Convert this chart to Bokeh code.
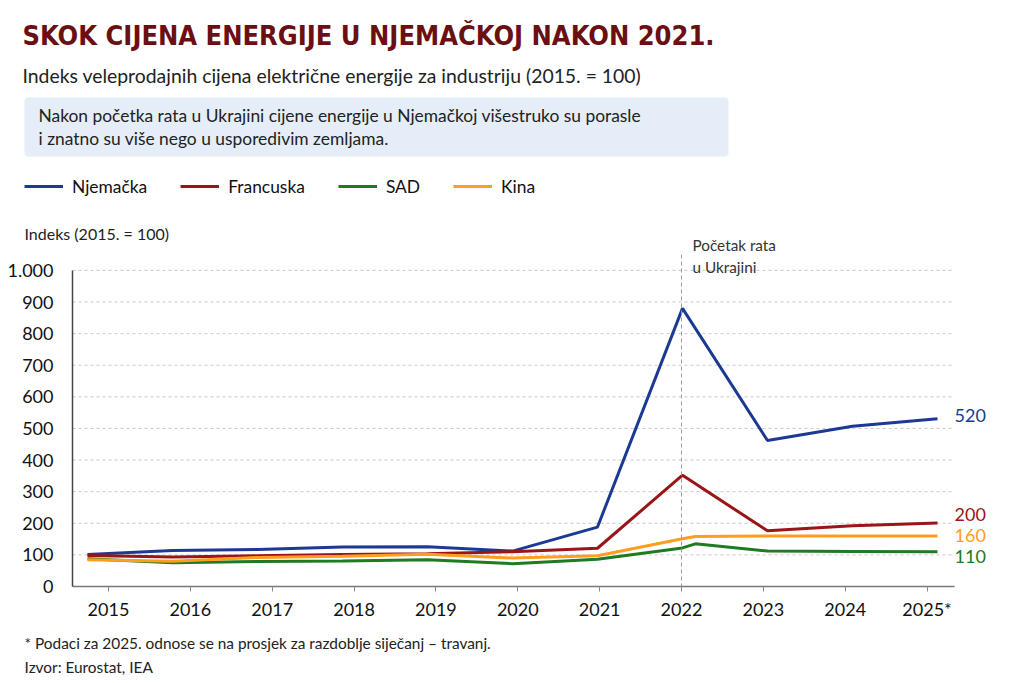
from bokeh.plotting import figure
from bokeh.layouts import column
from bokeh.models import (Range1d, FixedTicker, Label, BoxAnnotation, Legend,
                          LegendItem, Span)
from bokeh.embed import file_html
from bokeh.resources import INLINE

# ---------------- data ----------------
years = [2015, 2016, 2017, 2018, 2019, 2020, 2021, 2022, 2023, 2024, 2025]
year_labels = ["2015", "2016", "2017", "2018", "2019", "2020", "2021", "2022",
               "2023", "2024", "2025*"]
y_ticks = [0, 100, 200, 300, 400, 500, 600, 700, 800, 900, 1000]
y_tick_labels = ["0", "100", "200", "300", "400", "500", "600", "700", "800",
                 "900", "1.000"]

# series positions (index of observation)
de_fr_x = [0, 1, 2, 3, 4, 5, 6, 7, 8, 9, 10]
germany = [101, 114, 117, 125, 126, 112, 188, 880, 462, 507, 531]
france = [98, 93, 97, 101, 104, 110, 121, 352, 176, 192, 201]
cn_us_x = [0, 1, 2, 3, 4, 5, 6, 7, 7.15, 8, 9, 10]
china = [85, 80, 92, 96, 102, 90, 97, 151, 158, 160, 160, 160]
usa = [88, 75, 79, 81, 85, 72, 86, 122, 135, 112, 111, 110]

series_names = ["Njemačka", "Francuska", "SAD", "Kina"]
end_labels = ["520", "200", "160", "110"]
war_year = 2022

C_DE = "#1c3a93"
C_FR = "#9b1418"
C_US = "#1f7a22"
C_CN = "#ff9d1f"
COLORS = [C_DE, C_FR, C_US, C_CN]
FONT = "Lato"
TITLE_FONT = "'Liberation Sans Narrow', 'DejaVu Sans Condensed', sans-serif"

W = 1008
OX, OY = 0, 0          # page position of the canvas origin
H1 = 254 - OY          # header height
H2 = 368               # chart height
H3 = 58                # footer height


def bare(height, y0):
    f = figure(width=W, height=height, output_backend="svg",
               toolbar_location=None, x_axis_location=None,
               y_axis_location=None,
               x_range=Range1d(OX, OX + W), y_range=Range1d(y0 + height, y0),
               min_border=0)
    f.outline_line_color = None
    f.xgrid.grid_line_color = None
    f.ygrid.grid_line_color = None
    f.frame_align = False
    return f


def txt(f, s, X, Y, size, color="#222222", font=FONT, style="normal"):
    f.add_layout(Label(x=X, y=Y, text=s, text_font=font, text_font_size=size,
                       text_color=color, text_font_style=style,
                       text_baseline="middle", text_align="left"))


# ---------------- header ----------------
h = bare(H1, OY)
h.add_layout(BoxAnnotation(left=24, right=728, top=97, bottom=156,
                           fill_color="#e5edf8", fill_alpha=1, line_color=None,
                           border_radius=4, level="underlay"))
txt(h, "SKOK CIJENA ENERGIJE U NJEMAČKOJ NAKON 2021.", 22, 35, "27px",
    color="#6b0f13", font=TITLE_FONT, style="bold")
txt(h, "Indeks veleprodajnih cijena električne energije za industriju (2015. = 100)",
    22, 75, "19.4px")
txt(h, "Nakon početka rata u Ukrajini cijene energije u Njemačkoj višestruko su porasle",
    38, 115, "17.4px")
txt(h, "i znatno su više nego u usporedivim zemljama.", 38, 138, "17.4px")
txt(h, "Indeks (2015. = 100)", 24, 233, "16px")
txt(h, "Početak rata", 692, 244, "15.3px", color="#333333")

items = []
for name, col in zip(series_names, COLORS):
    r = h.line(x=[float("nan")], y=[float("nan")], line_color=col, line_width=3)
    items.append(LegendItem(label=name, renderers=[r]))
h.add_layout(Legend(items=items, orientation="horizontal",
                    location=(24 - OX, H1 + OY - 196.5),
                    glyph_width=39, glyph_height=20, label_standoff=9,
                    spacing=33, padding=0, margin=0, border_line_color=None,
                    background_fill_alpha=0, label_text_font=FONT,
                    label_text_font_size="17.4px", label_text_color="#111111",
                    label_height=20))

# ---------------- chart ----------------
PX = 81.857            # px per year on the tick axis
AX_START = 2015 - (108 - 72) / PX
AX_END = 2015 + (954 - 108) / PX
FR_END = 2015 + (1004 - 108) / PX
PT_START = (72 - 87) / 85
PT_END = (1004 - 87) / 85
FRAME_TOP = OY + H1
Y_TOP = (588 - FRAME_TOP) / 0.318

p = figure(width=W, height=H2, output_backend="svg", toolbar_location=None,
           x_range=Range1d(AX_START, FR_END), y_range=Range1d(0, Y_TOP),
           min_border_left=72 - OX, min_border_right=OX + W - 1004,
           min_border_top=0, min_border_bottom=H2 - (588 - FRAME_TOP))
p.frame_align = False
p.extra_x_ranges = {"pts": Range1d(PT_START, PT_END)}
p.outline_line_color = None
p.xgrid.grid_line_color = None
p.ygrid.grid_line_color = None

p.xaxis.ticker = FixedTicker(ticks=years)
p.xaxis.bounds = (AX_START, AX_END)
p.xaxis.major_label_overrides = {y: l for y, l in zip(years, year_labels)}
p.xaxis.major_label_text_font = FONT
p.xaxis.major_label_text_font_size = "18px"
p.xaxis.major_label_text_color = "#111111"
p.xaxis.axis_line_color = "#777777"
p.xaxis.axis_line_width = 1.5
p.xaxis.major_tick_line_color = "#888888"
p.xaxis.major_tick_out = 5
p.xaxis.major_tick_in = 0
p.xaxis.minor_tick_line_color = None
p.xaxis.major_label_standoff = 6

p.yaxis.ticker = FixedTicker(ticks=y_ticks)
p.yaxis.bounds = (0, 1000)
p.yaxis.major_label_overrides = {t: l for t, l in zip(y_ticks, y_tick_labels)}
p.yaxis.major_label_text_font = FONT
p.yaxis.major_label_text_font_size = "18px"
p.yaxis.major_label_text_color = "#111111"
p.yaxis.axis_line_color = "#444444"
p.yaxis.axis_line_width = 1.5
p.yaxis.major_tick_line_color = None
p.yaxis.minor_tick_line_color = None
p.yaxis.major_label_standoff = 13

# horizontal grid lines at the y ticks, limited to the axis extent
grid_y = y_ticks[1:]
p.segment(x0=[AX_START] * len(grid_y), y0=grid_y, x1=[AX_END] * len(grid_y),
          y1=grid_y, line_color="#c8c8c8", line_dash="3 3", line_width=1)

# war marker
p.add_layout(Span(location=war_year, dimension="height", line_color="#9a9a9a",
                  line_dash="4 3", line_width=1))
p.add_layout(Label(x=war_year, y=Y_TOP, text="u Ukrajini", x_offset=11,
                   y_offset=-12, text_font=FONT, text_font_size="15.3px",
                   text_color="#333333", text_baseline="middle"))

r_de = p.line(de_fr_x, germany, line_color=C_DE, line_width=3, x_range_name="pts")
r_fr = p.line(de_fr_x, france, line_color=C_FR, line_width=3, x_range_name="pts")
r_us = p.line(cn_us_x, usa, line_color=C_US, line_width=3, x_range_name="pts")
r_cn = p.line(cn_us_x, china, line_color=C_CN, line_width=3, x_range_name="pts")

ends = [(germany[-1], end_labels[0], C_DE, 3),
        (france[-1], end_labels[1], C_FR, 8),
        (china[-1], end_labels[2], C_CN, 0),
        (usa[-1], end_labels[3], C_US, -5)]
for yv, s, col, off in ends:
    p.add_layout(Label(x=de_fr_x[-1], y=yv, x_range_name="pts", text=s,
                       x_offset=17, y_offset=off, text_color=col,
                       text_font=FONT, text_font_size="18px",
                       text_baseline="middle", text_align="left"))

# ---------------- footer ----------------
ft = bare(H3, OY + H1 + H2)
txt(ft, "* Podaci za 2025. odnose se na prosjek za razdoblje siječanj – travanj.",
    24, 642, "15.4px")
txt(ft, "Izvor: Eurostat, IEA", 24, 666, "15.4px")

layout = column(h, p, ft, spacing=0)
open("out.html", "w").write(file_html(layout, INLINE))
